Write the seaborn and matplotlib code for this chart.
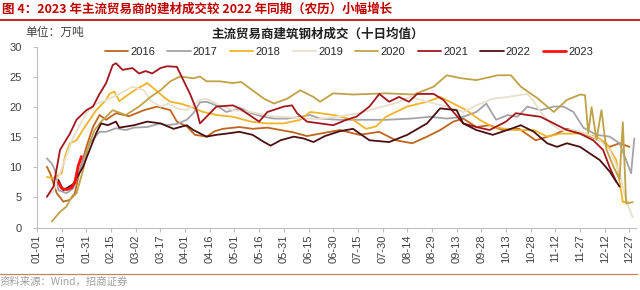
import pandas as pd
import matplotlib
matplotlib.use('Agg')
import matplotlib.pyplot as plt
from matplotlib.lines import Line2D
import seaborn as sns

# values (万吨), x = days since 01-01
years = ['2016', '2017', '2018', '2019', '2020', '2021', '2022', '2023']

days_2016 = [6, 8, 12, 16, 20, 23, 26, 30, 34, 38, 42, 48, 56, 65, 73, 81, 85, 91, 96, 103,
             108, 113, 123, 131, 140, 148, 156, 164, 172, 184, 196, 208, 218, 228, 237, 245,
             253, 259, 267, 275, 283, 293, 303, 314, 322, 332, 342, 348, 354, 360]
vals_2016 = [10.1, 9.0, 5.7, 4.3, 4.6, 5.7, 9.5, 13.4, 16.7, 18.7, 17.9, 19.0, 18.5, 19.5, 20.1,
             19.5, 17.6, 16.8, 15.4, 15.1, 16.0, 16.4, 16.7, 16.4, 16.6, 16.2, 15.8, 15.2, 15.6,
             16.2, 15.4, 15.9, 14.5, 14.0, 15.1, 16.2, 17.6, 18.1, 16.7, 17.0, 16.2, 16.4, 14.5,
             15.4, 16.4, 15.6, 14.5, 13.4, 14.0, 13.4]

days_2017 = [6, 9, 11, 13, 18, 22, 26, 29, 32, 38, 42, 48, 54, 59, 67, 75, 79, 85, 91, 95, 99,
             103, 109, 115, 119, 124, 130, 138, 144, 152, 160, 166, 172, 184, 196, 212, 227, 239,
             249, 259, 267, 273, 279, 286, 292, 298, 306, 314, 320, 326, 332, 340, 348, 354, 358,
             361, 363]
vals_2017 = [11.5, 10.6, 9.5, 6.2, 5.7, 6.5, 9.5, 11.8, 14.0, 15.9, 15.9, 16.5, 16.2, 16.6, 16.7,
             17.3, 17.0, 17.2, 17.9, 19.0, 20.8, 20.9, 20.3, 19.2, 19.5, 19.8, 19.0, 18.4, 18.1,
             18.1, 18.4, 18.7, 18.1, 17.9, 17.9, 17.9, 18.1, 18.4, 18.1, 18.4, 19.2, 20.6, 17.9,
             18.7, 18.4, 20.1, 19.5, 20.1, 20.1, 19.2, 16.6, 15.4, 15.1, 14.0, 11.2, 9.0, 14.8]

days_2018 = [6, 10, 15, 17, 20, 24, 29, 36, 42, 44, 47, 50, 55, 61, 67, 71, 77, 81, 87, 93, 101,
             109, 119, 130, 140, 150, 160, 166, 172, 180, 192, 200, 206, 212, 225, 237, 245, 253,
             261, 269, 277, 290, 302, 310, 318, 330, 340, 346, 352, 356, 359]
vals_2018 = [8.4, 8.2, 9.0, 11.8, 14.0, 14.5, 16.7, 19.5, 21.2, 22.2, 22.6, 21.0, 22.0, 23.1, 24.0,
             23.1, 21.7, 20.9, 20.6, 20.1, 19.2, 18.7, 18.4, 17.6, 17.3, 17.3, 17.9, 19.2, 19.0,
             18.7, 17.9, 16.4, 16.8, 18.4, 20.1, 20.9, 21.7, 20.6, 19.5, 17.9, 16.7, 16.2, 16.2,
             15.1, 15.6, 15.6, 15.1, 14.0, 11.2, 4.2, 4.3]

days_2019 = [6, 10, 14, 18, 22, 26, 30, 34, 44, 50, 58, 65, 69, 75, 80, 85, 91, 99, 103, 111,
             119, 128, 142, 155, 170, 185, 196, 206, 217, 227, 237, 249, 259, 267, 277, 286, 298,
             302, 306, 312, 318, 326, 334, 342, 348, 354, 358, 362]
vals_2019 = [5.2, 6.0, 9.0, 12.0, 15.0, 17.0, 19.0, 20.3, 21.4, 22.2, 23.4, 22.8, 21.1, 20.1,
             20.6, 19.8, 19.5, 21.2, 21.4, 20.3, 19.5, 19.3, 18.5, 18.3, 18.0, 18.5, 19.0, 19.8,
             20.6, 21.7, 20.9, 20.1, 19.2, 20.3, 21.4, 21.7, 22.2, 20.9, 19.2, 17.3, 16.2, 16.2,
             15.6, 14.5, 12.9, 9.0, 4.5, 1.7]

days_2020 = [9, 14, 18, 20, 24, 28, 31, 35, 39, 46, 54, 62, 69, 75, 81, 87, 95, 99, 103, 111,
             119, 124, 131, 138, 144, 152, 160, 168, 172, 180, 192, 212, 229, 241, 249, 258, 267,
             280, 288, 294, 304, 314, 322, 330, 333, 335, 337, 340, 343, 346, 350, 354, 356, 358,
             362]
vals_2020 = [1.0, 2.6, 3.5, 4.6, 5.7, 9.5, 13.4, 16.2, 17.6, 19.5, 18.7, 20.1, 21.7, 22.8, 24.3,
             25.1, 24.8, 25.1, 24.3, 24.3, 24.0, 24.2, 22.8, 21.4, 20.6, 21.4, 22.8, 21.7, 20.9,
             22.3, 22.1, 22.3, 22.1, 23.4, 25.3, 24.8, 24.5, 25.3, 25.3, 23.4, 21.5, 19.2, 21.2,
             22.1, 22.0, 15.7, 20.0, 14.6, 19.5, 13.0, 10.3, 8.0, 17.5, 4.0, 4.2]

days_2021 = [6, 10, 14, 20, 24, 30, 34, 38, 42, 46, 48, 52, 58, 62, 66, 70, 75, 79, 85, 88, 93,
             97, 99, 103, 109, 119, 123, 129, 135, 140, 150, 155, 158, 164, 172, 180, 188, 194,
             202, 208, 214, 220, 226, 231, 241, 247, 253, 259, 267, 275, 285, 291, 298, 306, 314,
             322, 330, 338, 344, 348, 352]
vals_2021 = [5.1, 6.8, 12.9, 15.6, 17.9, 19.5, 20.1, 22.2, 24.0, 27.0, 27.3, 26.2, 26.5, 25.6,
             26.0, 25.6, 26.5, 26.8, 26.7, 25.0, 22.2, 19.5, 17.3, 18.4, 20.1, 20.3, 19.8, 18.7,
             17.6, 19.2, 20.1, 20.3, 19.0, 17.6, 17.3, 17.0, 17.9, 18.4, 20.1, 22.2, 20.9, 21.7,
             20.9, 22.2, 22.2, 21.2, 19.2, 17.3, 16.7, 16.2, 17.6, 19.0, 18.7, 18.4, 17.3, 16.2,
             15.6, 14.5, 12.9, 10.0, 7.6]

days_2022 = [13, 16, 22, 28, 32, 36, 39, 43, 48, 50, 59, 67, 75, 83, 91, 95, 103, 109, 115, 123,
             131, 138, 142, 148, 156, 162, 168, 175, 184, 192, 202, 214, 225, 237, 245, 255, 259,
             267, 277, 288, 294, 302, 310, 316, 322, 330, 336, 342, 348, 354]
vals_2022 = [7.9, 6.2, 7.2, 10.1, 12.9, 15.7, 17.3, 17.0, 17.6, 16.6, 17.0, 17.6, 17.3, 16.4,
             17.0, 16.2, 15.1, 15.4, 15.6, 15.9, 15.4, 14.2, 13.6, 14.5, 15.1, 14.8, 14.2, 15.2,
             16.0, 16.4, 14.5, 14.2, 15.4, 17.3, 19.8, 19.5, 17.3, 16.2, 15.4, 16.4, 17.0, 15.9,
             14.0, 13.4, 14.0, 13.4, 12.3, 11.2, 9.3, 6.8]

days_2023 = [13, 15, 18, 21, 23, 25, 27]
vals_2023 = [7.5, 6.5, 6.3, 6.6, 7.5, 10.2, 11.8]

tick_days = list(range(0, 361, 15))
tick_labels = ['01-01', '01-16', '01-31', '02-15', '03-02', '03-17', '04-01', '04-16', '05-01',
               '05-16', '05-31', '06-15', '06-30', '07-15', '07-30', '08-14', '08-29', '09-13',
               '09-28', '10-13', '10-28', '11-12', '11-27', '12-12', '12-27']

series = {
    '2016': (days_2016, vals_2016), '2017': (days_2017, vals_2017),
    '2018': (days_2018, vals_2018), '2019': (days_2019, vals_2019),
    '2020': (days_2020, vals_2020), '2021': (days_2021, vals_2021),
    '2022': (days_2022, vals_2022), '2023': (days_2023, vals_2023),
}
rows = []
for y, (d, v) in series.items():
    rows += [{'year': y, 'day': a, 'value': b} for a, b in zip(d, v)]
df = pd.DataFrame(rows)

palette = {'2016': '#C0641E', '2017': '#A3A3AB', '2018': '#F0B428', '2019': '#E8E0CC',
           '2020': '#BFA246', '2021': '#A3161E', '2022': '#4A0F12', '2023': '#FF1010'}

sns.set_theme(style='white')
plt.rcParams['font.family'] = ['Liberation Sans', 'Noto Sans CJK SC']
cjk = 'Noto Sans CJK SC'

fig = plt.figure(figsize=(6.4, 2.9), dpi=100)
ax = fig.add_axes([37 / 640, 1 - 227.5 / 290, (636 - 37) / 640, (227.5 - 47) / 290])

sns.lineplot(data=df, x='day', y='value', hue='year', hue_order=years, palette=palette,
             estimator=None, linewidth=1.3, legend=False, ax=ax)
for line, y in zip(ax.lines, years):
    if y == '2023':
        line.set_linewidth(2.0)
        line.set_zorder(5)

ax.set_xlim(0, 364)
ax.set_ylim(0, 30)
ax.set_yticks(range(0, 31, 5))
ax.set_xticks(tick_days)
ax.set_xticklabels(tick_labels, rotation=90)
ax.set_xlabel('')
ax.set_ylabel('')
ax.tick_params(axis='both', labelsize=8, labelcolor='#404040', color='#BFBFBF',
               length=3, width=0.8)
ax.tick_params(axis='y', pad=8)
ax.tick_params(axis='x', pad=2)
ax.tick_params(bottom=True, left=True)
for s in ['top', 'right']:
    ax.spines[s].set_visible(False)
for s in ['left', 'bottom']:
    ax.spines[s].set_color('#BFBFBF')
    ax.spines[s].set_linewidth(0.8)

handles = [Line2D([0], [0], color=palette[y], lw=2.0 if y == '2023' else 1.3) for y in years]
fig.legend(handles, years, loc='center', bbox_to_anchor=(349 / 640, 1 - 52 / 290), ncol=8,
           frameon=False, fontsize=8, handlelength=2.1, handletextpad=0.2, columnspacing=1.1,
           borderpad=0, borderaxespad=0)

fig.text(2 / 640, 1 - 9 / 290, '图 4：2023 年主流贸易商的建材成交较 2022 年同期（农历）小幅增长',
         family=cjk, fontsize=9, weight='bold', color='#C00000', va='center')
fig.add_artist(Line2D([0, 1], [1 - 20 / 290] * 2, color='#C00000', lw=1.2))
fig.text(25 / 640, 1 - 32 / 290, '单位：万吨', family=cjk, fontsize=8.5, color='#404040',
         va='center')
fig.text(318 / 640, 1 - 34 / 290, '主流贸易商建筑钢材成交（十日均值）', family=cjk, fontsize=9,
         weight='bold', color='#202020', ha='center', va='center')
fig.add_artist(Line2D([0, 0.995], [1 - 274 / 290] * 2, color='#C8825A', lw=0.9))
fig.text(0, 1 - 282 / 290, '资料来源：Wind，招商证券', family=cjk, fontsize=7.5,
         color='#A0A0A0', va='center')

fig.savefig('out.png', dpi=100)
